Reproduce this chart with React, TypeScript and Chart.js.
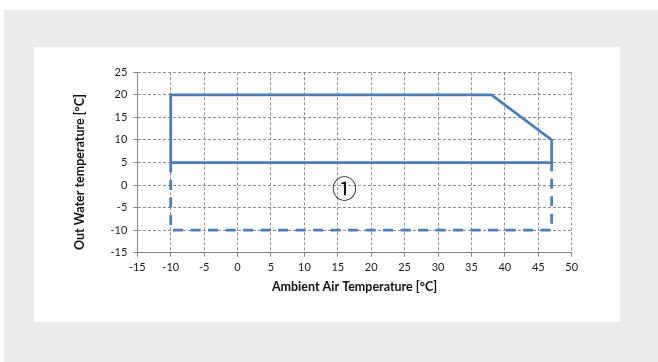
import React, { useEffect, useRef } from "react";
import { Chart, registerables } from "chart.js";

Chart.register(...registerables);

// Operating envelope (solid) and extended envelope (dashed)
const solidX = [-10, -10, 38, 47, 47, -10];
const solidY = [5, 20, 20, 10, 5, 5];
const dashX = [-10, -10, 47, 47];
const dashY = [5, -10, -10, 5];

// Axis ranges / ticks
const xMin = -15;
const xMax = 50;
const xStep = 5;
const yMin = -15;
const yMax = 25;
const yStep = 5;

// Titles & annotation
const xTitle = "Ambient Air Temperature [°C]";
const yTitle = "Out Water temperature [°C]";
const zoneLabel = "①";
const zoneLabelX = 16;
const zoneLabelY = -0.7;

const LINE = "#4a7ebb";
const GRID = "#8e8e8e";
const AXIS = "#868686";
const FONT = "Lato, 'Open Sans', sans-serif";

const textPlugin = {
  id: "customText",
  afterDraw(chart: any) {
    const { ctx, chartArea, scales } = chart;
    ctx.save();
    ctx.fillStyle = "#111";
    ctx.font = `bold 12.5px ${FONT}`;
    ctx.textAlign = "center";
    ctx.textBaseline = "middle";
    ctx.fillText(xTitle, (chartArea.left + chartArea.right) / 2, 287);
    ctx.save();
    ctx.translate(80, 172);
    ctx.rotate(-Math.PI / 2);
    ctx.fillText(yTitle, 0, 0);
    ctx.restore();
    ctx.font = `25px 'Noto Sans CJK JP', 'DejaVu Sans', sans-serif`;
    ctx.fillText(
      zoneLabel,
      scales.x.getPixelForValue(zoneLabelX),
      scales.y.getPixelForValue(zoneLabelY)
    );
    ctx.restore();
  },
};

export default function App() {
  const ref = useRef<HTMLCanvasElement>(null);

  useEffect(() => {
    if (!ref.current) return;
    const chart = new Chart(ref.current, {
      type: "scatter",
      data: {
        datasets: [
          {
            data: solidX.map((x, i) => ({ x, y: solidY[i] })),
            showLine: true,
            borderColor: LINE,
            borderWidth: 2.75,
            pointRadius: 0,
            fill: false,
            tension: 0,
          },
          {
            data: dashX.map((x, i) => ({ x, y: dashY[i] })),
            showLine: true,
            borderColor: LINE,
            borderWidth: 2.75,
            borderDash: [10, 7.5],
            pointRadius: 0,
            fill: false,
            tension: 0,
          },
        ],
      },
      options: {
        responsive: false,
        animation: false,
        devicePixelRatio: 1,
        layout: { padding: { left: 0, top: 72.3, right: 86.3, bottom: 0 } },
        plugins: {
          legend: { display: false },
          tooltip: { enabled: false },
        },
        scales: {
          x: {
            type: "linear",
            min: xMin,
            max: xMax,
            afterFit: (s: any) => {
              s.height = 362 - 252.7;
            },
            ticks: {
              stepSize: xStep,
              color: "#1a1a1a",
              font: { family: FONT, size: 11 },
              padding: 4,
            },
            grid: {
              color: GRID,
              tickLength: 4,
              tickColor: AXIS,
              tickBorderDash: [],
            },
            border: { display: true, color: AXIS, width: 1, dash: [3, 2] },
          },
          y: {
            type: "linear",
            min: yMin,
            max: yMax,
            afterFit: (s: any) => {
              s.width = 137.3;
            },
            ticks: {
              stepSize: yStep,
              color: "#1a1a1a",
              font: { family: FONT, size: 11 },
              padding: 6,
            },
            grid: {
              color: GRID,
              tickLength: 4,
              tickColor: AXIS,
              tickBorderDash: [],
            },
            border: { display: true, color: AXIS, width: 1, dash: [3, 2] },
          },
        },
      } as any,
      plugins: [textPlugin],
    });
    return () => chart.destroy();
  }, []);

  return (
    <div style={{ position: "absolute", left: 0, top: 0, width: 658, height: 362, background: "#fff", overflow: "hidden" }}>
      <div style={{ position: "absolute", left: 4, top: 10, right: 0, bottom: 0, background: "#ebebed" }} />
      <div style={{ position: "absolute", left: 34, top: 47, width: 586, height: 275, background: "#fff" }} />
      <canvas ref={ref} width={658} height={362} style={{ position: "absolute", left: 0, top: 0, width: 658, height: 362 }} />
    </div>
  );
}
